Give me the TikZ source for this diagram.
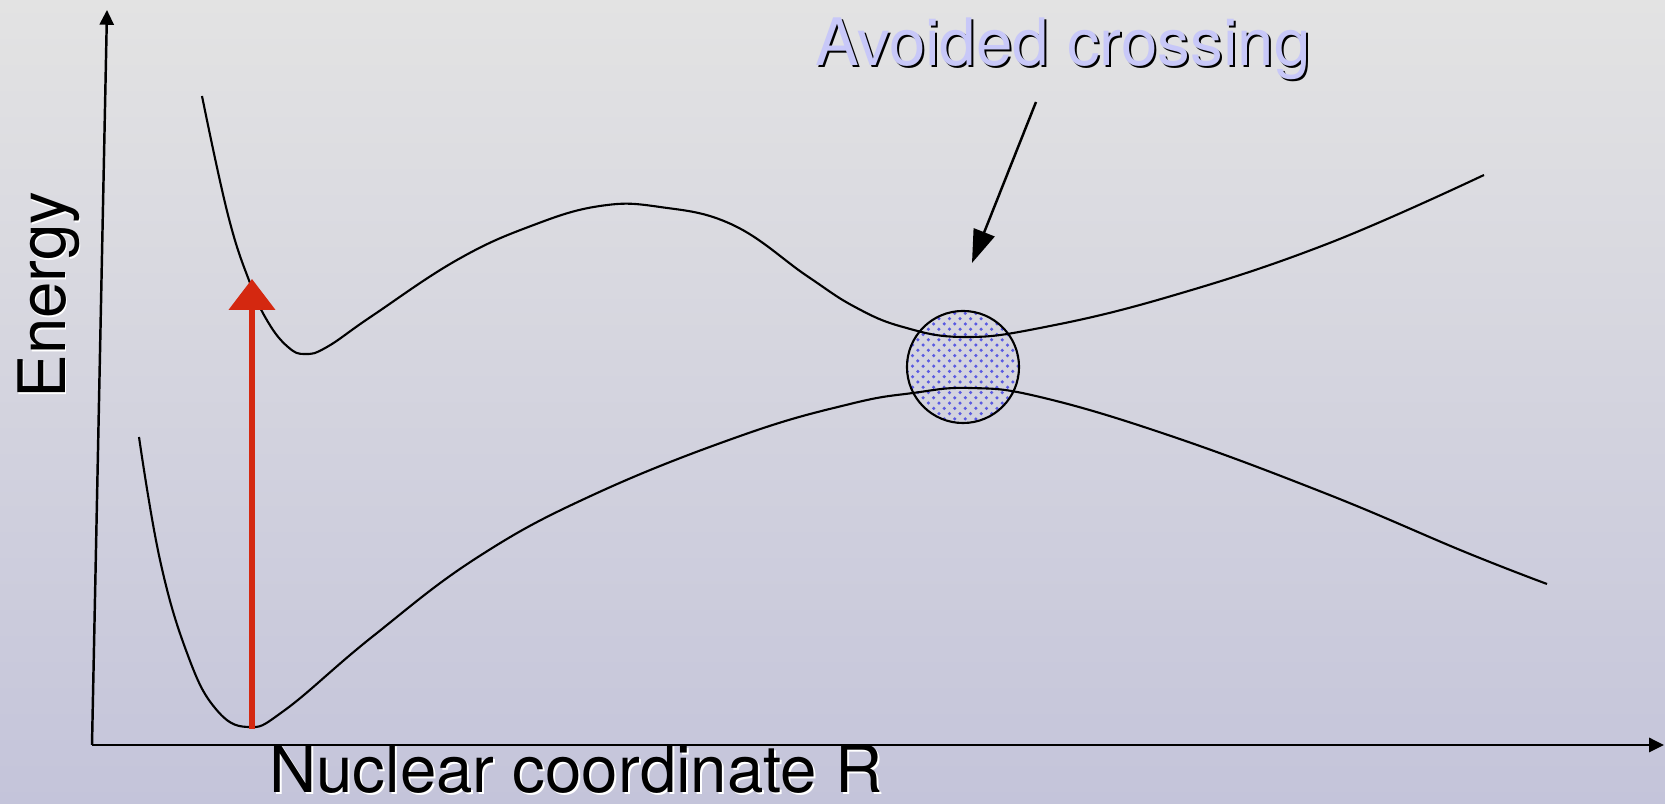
\documentclass[tikz,border=0pt]{standalone}
\usepackage{fontspec}
\setmainfont{TeX Gyre Heros}
\usetikzlibrary{arrows.meta,patterns}

\definecolor{bgtop}{RGB}{227,227,227}
\definecolor{bgbot}{RGB}{196,196,218}
\definecolor{lavtext}{RGB}{200,200,248}
\definecolor{exred}{RGB}{212,40,16}
\definecolor{dotblue}{RGB}{90,90,225}

\begin{document}
\begin{tikzpicture}[
  x=0.01cm, y=-0.01cm,
  font=\fontsize{18.6pt}{20pt}\selectfont,
  lbl/.style={inner sep=0pt, anchor=base},
  axis/.style={line width=0.7pt, -{Triangle[length=4.2pt, width=4pt]}},
  pes/.style={line width=0.6pt},
  pointer/.style={line width=0.7pt, -{Triangle[length=9.4pt, width=6.3pt]}},
  excite/.style={exred, line width=1.5pt, -{Triangle[length=8.8pt, width=13pt]}},
  xing/.style={circle, draw, line width=0.6pt, inner sep=0pt, minimum size=1.12cm,
               pattern=crosshatch dots, pattern color=dotblue}
]
% background
\fill[top color=bgtop, bottom color=bgbot] (0,0) rectangle (1665,804);
\useasboundingbox (0,0) rectangle (1665,804);

% axes
\coordinate (origin) at (92,745);
\coordinate (etop) at (107,10);
\coordinate (rend) at (1664,745);
\draw[axis] (origin) -- (etop);
\draw[axis] (origin) -- (rend);

% avoided crossing region
\node[xing] (xregion) at (963,367) {};

% upper surface
\draw[pes] plot[smooth, tension=0.7] coordinates {
  (202,96) (228,215) (250,283) (268,322) (288,347) (305,354)
  (327,347) (372,316) (457,260) (531,226) (600,206) (660,207) (733,225)
  (807,276) (855,307) (903,327) (963,337) (1040,328)
  (1168,297) (1327,244) (1484,175)};

% lower surface
\draw[pes] plot[smooth, tension=0.7] coordinates {
  (139,437) (160,560) (187,653) (215,708) (248,727)
  (285,710) (372,637) (478,557) (595,494) (743,435) (850,404)
  (913,393) (970,388) (1040,397) (1168,435) (1327,494)
  (1465,552) (1547,584)};

% vertical excitation
\coordinate (vlow) at (252,729);
\coordinate (vhigh) at (252,279);
\draw[excite] (vlow) -- (vhigh);

% labels
\node[lbl, text=black] at (1065,68) {Avoided crossing};
\node[lbl, text=lavtext] (title) at (1063,66) {Avoided crossing};
\coordinate (ptrstart) at (1036,102);
\coordinate (ptrend) at (972,263);
\draw[pointer] (ptrstart) -- (ptrend);

\node[lbl, text=white] at (578,795) {Nuclear coordinate R};
\node[lbl] (rlabel) at (576,793) {Nuclear coordinate R};

\node[lbl, text=white, rotate=90] at (67,297) {Energy};
\node[lbl, rotate=90] (elabel) at (65,295) {Energy};
\end{tikzpicture}
\end{document}
